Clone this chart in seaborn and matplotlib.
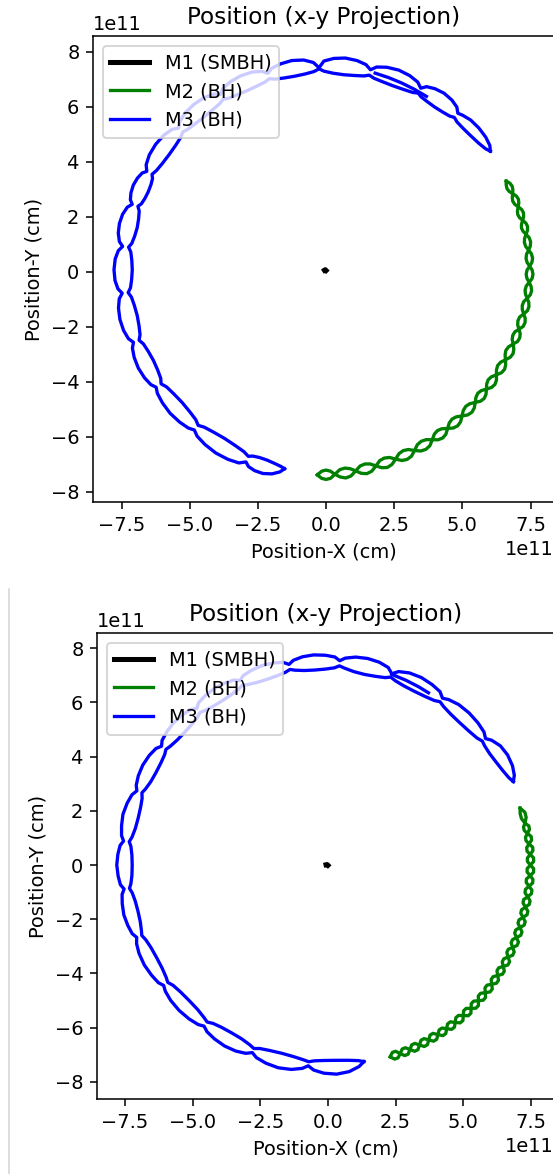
import numpy as np
import matplotlib
matplotlib.use("Agg")
import matplotlib.pyplot as plt
import seaborn as sns
from matplotlib.lines import Line2D

UNIT = 1e11  # positions below are in units of 1e11 cm

# ---------------- run A (upper panel) ----------------
# M1: the central black hole barely moves
a_m1_x = [-0.06, -0.03, 0.00]
a_m1_y = [0.05, 0.07, 0.04]

# M3: polar samples (angle in degrees, radius) of the two strands of the band
a_m3_theta = [36, 37.4, 39.9, 43, 46.1, 48.6,
              50, 51.3, 53.5, 56.3, 59, 61.3,
              62.5, 64, 66.7, 70, 73.3, 76,
              77.5, 79, 81.6, 84.8, 87.9, 90.6,
              92, 93.5, 96.1, 99.3, 102.4, 105.1,
              106.5, 108, 110.6, 113.8, 116.9, 119.6,
              121, 122.5, 125.2, 128.5, 131.8, 134.5,
              136, 137.5, 140.2, 143.5, 146.8, 149.5,
              151, 152, 153.8, 156, 158.2, 160,
              161, 162.2, 164.4, 167, 169.6, 171.8,
              173, 174.3, 176.6, 179.5, 182.4, 184.7,
              186, 187.4, 189.9, 193, 196.1, 198.6,
              200, 201.4, 203.9, 207, 210.1, 212.6,
              214, 215.6, 218.5, 222, 225.5, 228.4,
              230, 231.7, 234.8, 238.5, 242.2, 245.3,
              247, 248.1, 250.1, 252.5, 254.9, 256.9,
              258]
a_m3_outer = [7.45, 7.56, 7.63, 7.66, 7.65, 7.58,
              7.52, 7.67, 7.76, 7.80, 7.76, 7.67,
              7.52, 7.67, 7.76, 7.80, 7.76, 7.67,
              7.52, 7.67, 7.76, 7.80, 7.76, 7.66,
              7.42, 7.62, 7.74, 7.78, 7.74, 7.66,
              7.52, 7.66, 7.75, 7.78, 7.75, 7.66,
              7.52, 7.66, 7.75, 7.78, 7.75, 7.66,
              7.52, 7.66, 7.75, 7.78, 7.75, 7.66,
              7.52, 7.64, 7.71, 7.74, 7.71, 7.64,
              7.52, 7.66, 7.75, 7.78, 7.75, 7.66,
              7.52, 7.66, 7.75, 7.78, 7.75, 7.66,
              7.52, 7.65, 7.73, 7.76, 7.73, 7.65,
              7.52, 7.63, 7.70, 7.73, 7.70, 7.63,
              7.52, 7.61, 7.67, 7.70, 7.67, 7.61,
              7.52, 7.63, 7.70, 7.74, 7.72, 7.66,
              7.52, 7.64, 7.70, 7.70, 7.62, 7.48,
              7.33]
a_m3_inner = [7.45, 7.36, 7.29, 7.25, 7.24, 7.26,
              7.32, 7.25, 7.21, 7.19, 7.21, 7.25,
              7.32, 7.25, 7.21, 7.19, 7.21, 7.25,
              7.32, 7.25, 7.21, 7.19, 7.22, 7.29,
              7.38, 7.29, 7.23, 7.20, 7.21, 7.25,
              7.32, 7.25, 7.21, 7.19, 7.21, 7.25,
              7.32, 7.25, 7.21, 7.19, 7.21, 7.25,
              7.31, 7.23, 7.18, 7.16, 7.18, 7.23,
              7.30, 7.21, 7.16, 7.14, 7.16, 7.21,
              7.30, 7.20, 7.14, 7.11, 7.14, 7.20,
              7.30, 7.20, 7.14, 7.11, 7.14, 7.20,
              7.30, 7.20, 7.14, 7.11, 7.14, 7.20,
              7.30, 7.20, 7.14, 7.11, 7.14, 7.20,
              7.30, 7.20, 7.14, 7.11, 7.14, 7.20,
              7.30, 7.21, 7.15, 7.12, 7.15, 7.21,
              7.30, 7.23, 7.19, 7.19, 7.23, 7.28,
              7.33]
# starting stretch of M3 inside the band
a_m3_start_theta = [60, 64, 68, 72, 76]
a_m3_start_r = [7.36, 7.38, 7.40, 7.42, 7.44]

# M2: chain of loops
a_m2_theta = [-92.5, -91.25, -90, -88.75,
              -87.5, -86, -84.5, -83,
              -81.5, -80, -78.5, -77,
              -75.5, -74, -72.5, -71,
              -69.5, -68, -66.5, -65,
              -63.5, -62, -60.5, -59,
              -57.5, -56.1, -54.75, -53.4,
              -52, -50.6, -49.25, -47.9,
              -46.5, -45.1, -43.75, -42.4,
              -41, -39.75, -38.5, -37.25,
              -36, -34.75, -33.5, -32.25,
              -31, -29.75, -28.5, -27.25,
              -26, -24.75, -23.5, -22.25,
              -21, -19.9, -18.75, -17.6,
              -16.5, -15.4, -14.25, -13.1,
              -12, -10.9, -9.75, -8.6,
              -7.5, -6.4, -5.25, -4.1,
              -3, -1.9, -0.75, 0.4,
              1.5, 2.6, 3.75, 4.9,
              6, 7.1, 8.25, 9.4,
              10.5, 11.5, 12.5, 13.5,
              14.5, 15.5, 16.5, 17.5,
              18.5, 19.5, 20.5, 21.5,
              22.5, 23.5, 24.5, 25.5,
              26.5]
a_m2_outer = [7.40, 7.52, 7.56, 7.52,
              7.38, 7.49, 7.54, 7.49,
              7.33, 7.45, 7.50, 7.45,
              7.30, 7.42, 7.47, 7.42,
              7.28, 7.41, 7.45, 7.41,
              7.27, 7.39, 7.43, 7.39,
              7.25, 7.37, 7.41, 7.37,
              7.24, 7.36, 7.40, 7.36,
              7.24, 7.36, 7.40, 7.36,
              7.25, 7.37, 7.41, 7.37,
              7.27, 7.39, 7.43, 7.39,
              7.29, 7.41, 7.45, 7.41,
              7.32, 7.44, 7.48, 7.44,
              7.35, 7.47, 7.50, 7.47,
              7.38, 7.50, 7.53, 7.50,
              7.41, 7.52, 7.55, 7.52,
              7.44, 7.54, 7.57, 7.54,
              7.46, 7.56, 7.59, 7.56,
              7.47, 7.56, 7.59, 7.56,
              7.47, 7.55, 7.58, 7.55,
              7.46, 7.54, 7.57, 7.54,
              7.45, 7.52, 7.55, 7.52,
              7.43, 7.50, 7.53, 7.50,
              7.41, 7.47, 7.50, 7.47,
              7.38]
a_m2_inner = [7.40, 7.26, 7.22, 7.26,
              7.38, 7.22, 7.18, 7.22,
              7.33, 7.18, 7.14, 7.18,
              7.30, 7.15, 7.11, 7.15,
              7.28, 7.14, 7.10, 7.14,
              7.27, 7.13, 7.09, 7.13,
              7.25, 7.12, 7.08, 7.12,
              7.24, 7.12, 7.08, 7.12,
              7.24, 7.13, 7.09, 7.13,
              7.25, 7.15, 7.11, 7.15,
              7.27, 7.17, 7.13, 7.17,
              7.29, 7.20, 7.16, 7.20,
              7.32, 7.23, 7.19, 7.23,
              7.35, 7.26, 7.23, 7.26,
              7.38, 7.29, 7.26, 7.29,
              7.41, 7.33, 7.30, 7.33,
              7.44, 7.36, 7.33, 7.36,
              7.46, 7.37, 7.34, 7.37,
              7.47, 7.38, 7.35, 7.38,
              7.47, 7.38, 7.35, 7.38,
              7.46, 7.37, 7.34, 7.37,
              7.45, 7.36, 7.33, 7.36,
              7.43, 7.34, 7.31, 7.34,
              7.41, 7.32, 7.29, 7.32,
              7.38]

# ---------------- run B (lower panel) ----------------
b_m1_x = [-0.07, -0.03, 0.00]
b_m1_y = [0.01, 0.02, -0.01]

b_m3_theta = [24.2, 25.7, 28.3, 31.5, 34.6, 37.3,
              38.7, 40.4, 43.4, 47.1, 50.8, 53.8,
              55.5, 57.1, 60, 63.5, 67, 69.9,
              71.5, 73, 75.8, 79.1, 82.4, 85.2,
              86.7, 88.1, 90.7, 93.9, 97, 99.6,
              101, 102.5, 105.1, 108.3, 111.4, 114.1,
              115.5, 117, 119.6, 122.8, 125.9, 128.6,
              130, 131.5, 134.1, 137.3, 140.4, 143.1,
              144.5, 145.9, 148.5, 151.7, 154.8, 157.4,
              158.8, 160.3, 162.9, 166.1, 169.2, 171.9,
              173.3, 174.6, 177.1, 180, 183, 185.4,
              186.7, 188.1, 190.6, 193.7, 196.8, 199.3,
              200.7, 202.3, 205, 208.5, 211.9, 214.7,
              216.2, 217.8, 220.7, 224.3, 227.9, 230.8,
              232.4, 234, 236.8, 240.2, 243.6, 246.4,
              248, 249.6, 252.6, 256.2, 259.8, 262.8,
              264.4, 266, 268.9, 272.4, 275.9, 278.8,
              280.4]
b_m3_outer = [7.51, 7.64, 7.74, 7.78, 7.74, 7.60,
              7.46, 7.57, 7.63, 7.66, 7.64, 7.56,
              7.47, 7.62, 7.69, 7.73, 7.70, 7.60,
              7.44, 7.62, 7.72, 7.76, 7.74, 7.66,
              7.55, 7.68, 7.74, 7.77, 7.74, 7.66,
              7.54, 7.66, 7.72, 7.75, 7.72, 7.66,
              7.54, 7.66, 7.72, 7.75, 7.72, 7.66,
              7.54, 7.66, 7.72, 7.75, 7.72, 7.66,
              7.55, 7.67, 7.74, 7.77, 7.74, 7.67,
              7.57, 7.69, 7.76, 7.80, 7.76, 7.70,
              7.60, 7.71, 7.77, 7.80, 7.76, 7.70,
              7.58, 7.68, 7.73, 7.76, 7.72, 7.66,
              7.55, 7.64, 7.70, 7.72, 7.68, 7.62,
              7.52, 7.60, 7.66, 7.68, 7.65, 7.59,
              7.50, 7.60, 7.66, 7.69, 7.66, 7.58,
              7.46, 7.58, 7.66, 7.70, 7.66, 7.56,
              7.44, 7.58, 7.68, 7.72, 7.66, 7.52,
              7.37]
b_m3_inner = [7.51, 7.42, 7.34, 7.28, 7.25, 7.27,
              7.31, 7.23, 7.18, 7.16, 7.18, 7.24,
              7.31, 7.23, 7.18, 7.16, 7.18, 7.24,
              7.31, 7.23, 7.18, 7.16, 7.20, 7.29,
              7.36, 7.28, 7.23, 7.21, 7.23, 7.29,
              7.35, 7.28, 7.23, 7.21, 7.23, 7.29,
              7.35, 7.28, 7.23, 7.21, 7.23, 7.29,
              7.35, 7.28, 7.23, 7.21, 7.23, 7.29,
              7.35, 7.28, 7.23, 7.21, 7.23, 7.30,
              7.37, 7.29, 7.24, 7.22, 7.24, 7.31,
              7.39, 7.31, 7.25, 7.23, 7.25, 7.31,
              7.38, 7.30, 7.24, 7.22, 7.24, 7.30,
              7.35, 7.27, 7.21, 7.19, 7.21, 7.27,
              7.33, 7.24, 7.18, 7.16, 7.18, 7.25,
              7.31, 7.22, 7.16, 7.14, 7.16, 7.23,
              7.30, 7.22, 7.17, 7.15, 7.18, 7.24,
              7.29, 7.24, 7.21, 7.21, 7.24, 7.30,
              7.37]
b_m3_start_theta = [59.7, 63, 67, 71.5]
b_m3_start_r = [7.36, 7.38, 7.40, 7.42]

b_m2_theta = [-72, -71, -70, -69, -68, -67, -66, -65, -64, -63, -62, -61,
              -60, -59, -58, -57, -56, -55, -54, -53, -52, -51, -50, -49,
              -48, -47, -46, -45, -44, -43, -42, -41, -40, -39, -38, -37,
              -36, -35, -34, -33, -32, -31, -30, -29, -28, -27, -26, -25,
              -24, -23, -22, -21, -20, -19, -18, -17, -16, -15, -14, -13,
              -12, -11, -10, -9, -8, -7, -6, -5, -4, -3, -2, -1,
              0, 1, 2, 3, 4, 5, 6, 7, 8, 9, 10, 11,
              12, 13.5, 15, 16.5]
b_m2_outer = [7.44, 7.57, 7.57, 7.45, 7.58, 7.58, 7.45, 7.58, 7.58, 7.45, 7.58, 7.58,
              7.45, 7.58, 7.58, 7.46, 7.59, 7.59, 7.46, 7.59, 7.59, 7.47, 7.60, 7.60,
              7.47, 7.60, 7.60, 7.48, 7.60, 7.60, 7.48, 7.60, 7.60, 7.48, 7.60, 7.60,
              7.48, 7.60, 7.60, 7.48, 7.60, 7.60, 7.48, 7.60, 7.60, 7.47, 7.59, 7.59,
              7.47, 7.59, 7.59, 7.46, 7.58, 7.58, 7.46, 7.58, 7.58, 7.46, 7.58, 7.58,
              7.46, 7.58, 7.58, 7.47, 7.59, 7.59, 7.47, 7.59, 7.59, 7.48, 7.60, 7.60,
              7.48, 7.60, 7.60, 7.48, 7.59, 7.59, 7.47, 7.58, 7.58, 7.46, 7.56, 7.56,
              7.44, 7.53, 7.53, 7.40]
b_m2_inner = [7.44, 7.31, 7.31, 7.45, 7.32, 7.32, 7.45, 7.32, 7.32, 7.45, 7.32, 7.32,
              7.45, 7.32, 7.32, 7.46, 7.34, 7.34, 7.46, 7.34, 7.34, 7.47, 7.35, 7.35,
              7.47, 7.35, 7.35, 7.48, 7.36, 7.36, 7.48, 7.36, 7.36, 7.48, 7.36, 7.36,
              7.48, 7.36, 7.36, 7.48, 7.36, 7.36, 7.48, 7.36, 7.36, 7.47, 7.35, 7.35,
              7.47, 7.35, 7.35, 7.46, 7.34, 7.34, 7.46, 7.34, 7.34, 7.46, 7.34, 7.34,
              7.46, 7.34, 7.34, 7.47, 7.35, 7.35, 7.47, 7.35, 7.35, 7.48, 7.36, 7.36,
              7.48, 7.37, 7.37, 7.48, 7.37, 7.37, 7.47, 7.37, 7.37, 7.46, 7.36, 7.36,
              7.44, 7.35, 7.35, 7.40]

x_ticks = [-7.5, -5.0, -2.5, 0.0, 2.5, 5.0, 7.5]
y_ticks = [-8, -6, -4, -2, 0, 2, 4, 6, 8]
body_labels = ["M1 (SMBH)", "M2 (BH)", "M3 (BH)"]
body_colors = ["black", "green", "blue"]
body_widths = [2.6, 1.7, 1.7]


def polar_xy(theta_deg, r):
    t = np.deg2rad(np.asarray(theta_deg, dtype=float))
    rr = np.asarray(r, dtype=float) * UNIT
    return rr * np.cos(t), rr * np.sin(t)


def trace(ax, x, y, color, lw):
    sns.lineplot(x=np.asarray(x), y=np.asarray(y), sort=False, estimator=None,
                 color=color, linewidth=lw, ax=ax, legend=False)


def draw_run(ax, m1x, m1y, m2_theta, m2_rs, m3_theta, m3_rs, m3_start):
    # M3 band, both strands
    for rs in m3_rs:
        x, y = polar_xy(m3_theta, rs)
        trace(ax, x, y, body_colors[2], body_widths[2])
    x, y = polar_xy(*m3_start)
    trace(ax, x, y, body_colors[2], body_widths[2])
    # M2 chain
    for rs in m2_rs:
        x, y = polar_xy(m2_theta, rs)
        trace(ax, x, y, body_colors[1], body_widths[1])
    # M1
    trace(ax, np.asarray(m1x) * UNIT, np.asarray(m1y) * UNIT,
          body_colors[0], body_widths[0])

    ax.set_xticks(np.asarray(x_ticks) * UNIT)
    ax.set_yticks(np.asarray(y_ticks) * UNIT)
    ax.set_title("Position (x-y Projection)")
    ax.set_xlabel("Position-X (cm)")
    ax.set_ylabel("Position-Y (cm)")
    handles = [Line2D([], [], color=c, lw=w) for c, w in zip(body_colors, body_widths)]
    ax.legend(handles, body_labels, loc="upper left")


DPI = 139.5
W, H = 553, 1174
fig = plt.figure(figsize=(W / DPI, H / DPI), dpi=DPI)


def axes_px(left, top, right, bottom):
    return fig.add_axes([left / W, 1 - bottom / H, (right - left) / W, (bottom - top) / H])


ax_a = axes_px(93, 36, 554, 502)
ax_b = axes_px(97, 633, 554, 1099)

draw_run(ax_a, a_m1_x, a_m1_y, a_m2_theta, [a_m2_outer, a_m2_inner],
         a_m3_theta, [a_m3_outer, a_m3_inner], (a_m3_start_theta, a_m3_start_r))
draw_run(ax_b, b_m1_x, b_m1_y, b_m2_theta, [b_m2_outer, b_m2_inner],
         b_m3_theta, [b_m3_outer, b_m3_inner], (b_m3_start_theta, b_m3_start_r))

ax_a.set_xlim(-8.55 * UNIT, 8.36 * UNIT)
ax_a.set_ylim(-8.38 * UNIT, 8.57 * UNIT)
ax_b.set_xlim(-8.53 * UNIT, 8.35 * UNIT)
ax_b.set_ylim(-8.63 * UNIT, 8.56 * UNIT)

# thin border of the lower frame
fig.add_artist(Line2D([9 / W, 9 / W], [0, 1 - 589 / H], transform=fig.transFigure,
                      color="#d4d4d4", lw=0.8))

fig.savefig("out.png", dpi=DPI)
